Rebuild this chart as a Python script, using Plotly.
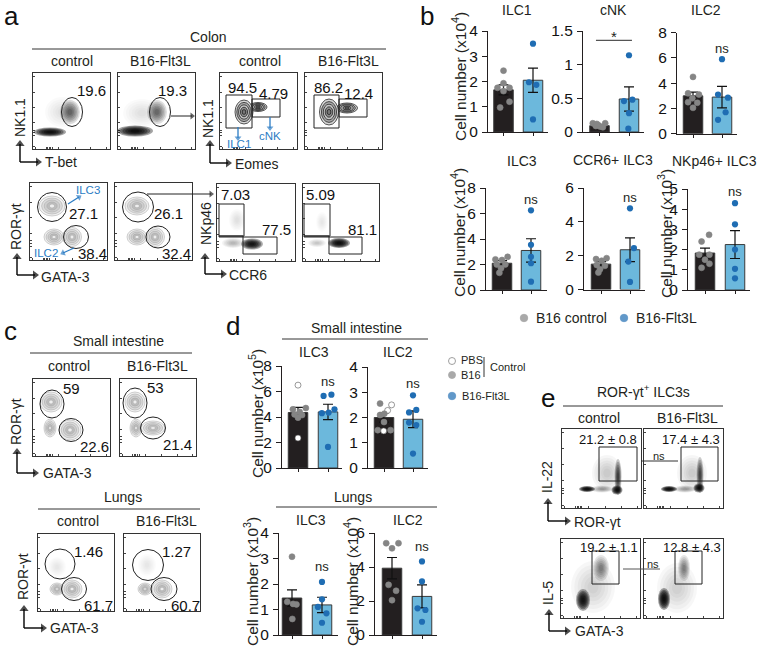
import math
import plotly.graph_objects as go

# ---------- values ----------
ILC1_control = [2.43, 1.93, 1.75, 1.75, 1.62, 1.2, 0.97]
ILC1_flt3l = [3.5, 1.97, 1.87, 0.5]
cNK_control = [0.13, 0.13, 0.1, 0.08, 0.09, 0.07, 0.12]
cNK_flt3l = [1.14, 0.48, 0.46, 0.28, 0.05]
ILC2_control = [4.5, 3.2, 3.1, 2.8, 2.5, 2.45, 2.05]
ILC2_flt3l = [5.9, 3.1, 2.85, 1.7, 1.1]
ILC3_control = [2.6, 2.4, 2.35, 2.0, 2.0, 1.7, 1.35]
ILC3_flt3l = [6.25, 3.55, 2.6, 2.1, 0.65]
CCR6_control = [1.8, 1.85, 1.7, 1.45, 1.4, 1.2, 1.0]
CCR6_flt3l = [4.8, 2.45, 1.65, 0.45]
NKp46_control = [2.73, 2.4, 1.75, 1.75, 1.5, 1.3, 1.1]
NKp46_flt3l = [4.3, 3.25, 2.0, 1.05, 0.58]
SI_ILC3_control = [6.5, 4.6, 4.7, 4.4, 4.15, 4.2, 3.95, 2.35]
SI_ILC3_flt3l = [5.65, 5.75, 4.3, 4.35, 4.6, 1.65]
SI_ILC2_control = [2.55, 2.1, 1.82, 2.5, 2.28, 2.15, 1.47, 1.5, 1.5]
SI_ILC2_flt3l = [2.88, 2.3, 2.2, 1.7, 1.8, 0.57]
LU_ILC3_control = [3.07, 1.3, 1.2, 1.22, 0.63]
LU_ILC3_flt3l = [2.08, 1.4, 1.1, 0.85, 0.48]
LU_ILC2_control = [5.4, 5.4, 5.1, 2.95, 2.6, 2.05]
LU_ILC2_flt3l = [4.33, 3.15, 1.57, 1.47, 0.78]

BAR_MEANS = {"ILC1": [1.67, 2.05], "cNK": [0.094, 0.49], "ILC2": [3.0, 2.9], "ILC3": [2.1, 3.1],
             "CCR6": [1.5, 2.35], "NKp46": [1.83, 2.25], "SI_ILC3": [4.35, 4.4], "SI_ILC2": [2.0, 1.93],
             "LU_ILC3": [1.45, 1.18], "LU_ILC2": [3.93, 2.27]}
BAR_SEM = {"ILC1": [0.2, 0.48], "cNK": [0.012, 0.18], "ILC2": [0.3, 0.85], "ILC3": [0.2, 0.92],
           "CCR6": [0.15, 0.7], "NKp46": [0.24, 0.69], "SI_ILC3": [0.4, 0.6], "SI_ILC2": [0.18, 0.33],
           "LU_ILC3": [0.32, 0.3], "LU_ILC2": [0.63, 0.68]}

# ---------- colours ----------
INK = "#231f20"
BLACK_BAR = "#231f20"
BLUE_BAR = "#6cb8dc"
GREY_DOT = "#858585"
BLUE_DOT = "#1f6db3"
GATE_BLUE = "#2b7cc4"
FONT = "Liberation Sans"

layout = dict(
    template="none",
    width=760, height=646, margin=dict(l=0, r=0, t=0, b=0, pad=0, autoexpand=False),
    paper_bgcolor="white", plot_bgcolor="rgba(0,0,0,0)",
    showlegend=False, font=dict(family=FONT, color=INK),
    xaxis=dict(domain=[0, 1], range=[0, 760], visible=False, fixedrange=True, automargin=False),
    yaxis=dict(domain=[0, 1], range=[646, 0], visible=False, fixedrange=True, automargin=False),
)
shapes, annos, traces = [], [], []
heads = []
axis_counter = [1]


def new_axes(x0, x1, y0, y1):
    axis_counter[0] += 1
    n = axis_counter[0]
    dom_x = [x0 / 760, x1 / 760]
    dom_y = [1 - y1 / 646, 1 - y0 / 646]
    return n, dom_x, dom_y


def text(x, y, s, size=13, color=INK, anchor="center", angle=0):
    annos.append(dict(x=x, y=y, xref="x", yref="y", text=s, showarrow=False, xanchor=anchor, yanchor="middle",
                      font=dict(size=size, color=color, family=FONT), textangle=angle))


def line(x0, y0, x1, y1, color="#333333", width=1):
    shapes.append(dict(type="line", x0=x0, y0=y0, x1=x1, y1=y1, xref="x", yref="y",
                       line=dict(color=color, width=width)))


def arrow(x0, y0, x1, y1, color=INK, width=1.3, size=7):
    line(x0, y0, x1, y1, color, width)
    heads.append((x1, y1, math.degrees(math.atan2(x1 - x0, y0 - y1)), color, size))


def corner(x, ytop, ybot, xright):
    arrow(x, ybot, x, ytop, color="#000000", width=1.4, size=8)
    arrow(x, ybot, xright, ybot, color="#000000", width=1.4, size=8)


# ---------- bar panels ----------
def bar_panel(key, control, flt3l, ctrl_off, flt_off, box, ymax, ticks, ticktext=None, ns=None, ctrl_colors=None):
    x0, x1, y0, y1, c0, c1 = box
    n, dx, dy = new_axes(x0, x1, y0, y1)
    step = c1 - c0
    layout[f"xaxis{n}"] = dict(domain=dx, range=[(x0 - c0) / step, (x1 - c0) / step], anchor=f"y{n}",
                               tickvals=[0, 1], ticks="outside", ticklen=3, tickwidth=1.1, tickcolor=INK,
                               showticklabels=False, showgrid=False, zeroline=False, showline=True,
                               linecolor=INK, linewidth=1.2, fixedrange=True, automargin=False)
    layout[f"yaxis{n}"] = dict(domain=dy, range=[0, ymax], anchor=f"x{n}", tickvals=ticks,
                               ticktext=ticktext or [str(t) for t in ticks], ticks="outside", ticklen=5,
                               tickwidth=1.1, tickcolor=INK, tickfont=dict(size=15.5, color="#111111", family=FONT),
                               showgrid=False, zeroline=False, showline=True, linecolor=INK, linewidth=1.2,
                               fixedrange=True, ticklabelstandoff=1, automargin=False)
    w = 19.5 / step
    traces.append(go.Bar(x=[0, 1], y=BAR_MEANS[key], width=w, xaxis=f"x{n}", yaxis=f"y{n}",
                         marker=dict(color=[BLACK_BAR, BLUE_BAR], line=dict(color="#3a3a3a", width=1)),
                         error_y=dict(type="data", array=BAR_SEM[key], color="#111111", thickness=1.2, width=5)))
    colors = ctrl_colors or [GREY_DOT] * len(control)
    traces.append(go.Scatter(x=[o / 88 for o in ctrl_off], y=control, mode="markers", xaxis=f"x{n}", yaxis=f"y{n}",
                             cliponaxis=False,
                             marker=dict(size=6, color=colors,
                                         line=dict(color=["#555555" if c == "white" else c for c in colors], width=0.6))))
    traces.append(go.Scatter(x=[1 + o / 88 for o in flt_off], y=flt3l, mode="markers", xaxis=f"x{n}", yaxis=f"y{n}",
                             cliponaxis=False, marker=dict(size=6.2, color=BLUE_DOT)))
    if ns is not None:
        annos.append(dict(x=1, y=ns, xref=f"x{n}", yref=f"y{n}", text="ns", showarrow=False, yanchor="middle",
                          font=dict(size=13, color=INK, family=FONT)))
    return n


W = "white"
G = GREY_DOT
bar_panel("ILC1", ILC1_control, ILC1_flt3l, [0, 0, -18, 18, 0, 18, -10], [0, -12, 10, 0],
          (488, 548, 31, 132, 503.5, 533), 4, [0, 1, 2, 3, 4], ns=4.04)
cnk = bar_panel("cNK", cNK_control, cNK_flt3l, [-20, 17, -3, 2, -11, 10, -8], [0, 10, -15, 0, -2],
                (583, 644, 31, 132, 599.5, 629), 1.5, [0, 0.5, 1, 1.5], ["0", "0.5", "1", "1.5"])
bar_panel("ILC2", ILC2_control, ILC2_flt3l, [0, -15, 18, -2, -15, 13, 0], [0, -12, 18, 11, -12],
          (677, 737, 32.7, 133.7, 693, 722), 8, [0, 2, 4, 6, 8], ns=6.75)
bar_panel("ILC3", ILC3_control, ILC3_flt3l, [17, -20, 0, -16, 10, -3, -8], [0, 0, 0, 0, 0],
          (486, 547, 188, 290, 502, 531), 8, [0, 2, 4, 6, 8], ns=7.1)
bar_panel("CCR6", CCR6_control, CCR6_flt3l, [-15, 17, 2, -13, 12, -3, -8], [0, 12, -5, 0],
          (584, 645, 188, 289.5, 601, 630), 6, [0, 2, 4, 6], ns=5.45)
bar_panel("NKp46", NKp46_control, NKp46_flt3l, [12, -10, -17, 13, 0, 13, -10], [0, 0, 0, 0, 0],
          (688, 750, 189, 290, 705, 735), 5, [0, 1, 2, 3, 4, 5], ns=4.9)
bar_panel("SI_ILC3", SI_ILC3_control, SI_ILC3_flt3l, [0, -15, 23, 5, 12, -10, 0, 0], [-13, 10, -18, 2, 19, 0],
          (282, 342, 366, 468, 298, 328), 8, [0, 2, 4, 6, 8], ns=6.8,
          ctrl_colors=[W, G, G, G, G, G, G, W])
bar_panel("SI_ILC2", SI_ILC2_control, SI_ILC2_flt3l, [-12, -12, 0, 23, 11, 1, -1, -19, 20], [0, 10, -12, 10, -12, 0],
          (368, 428, 367, 468, 384, 413), 4, [0, 1, 2, 3, 4], ns=3.35,
          ctrl_colors=[G, G, G, W, W, G, W, G, G])
bar_panel("LU_ILC3", LU_ILC3_control, LU_ILC3_flt3l, [0, -14, 13, 3, 1], [0, 0, -12, 13, 0],
          (279, 338, 533, 635, 292, 322), 4, [0, 1, 2, 3, 4], ns=2.7)
bar_panel("LU_ILC2", LU_ILC2_control, LU_ILC2_flt3l, [-17, 19, 0, -10, 12, 0], [0, 0, -13, 10, 0],
          (375, 437, 533, 635, 392, 422), 6, [0, 2, 4, 6], ns=5.2)

# significance bar on the cNK panel
shapes.append(dict(type="line", x0=-0.12, x1=1.1, y0=1.36, y1=1.36, xref=f"x{cnk}", yref=f"y{cnk}",
                   line=dict(color="#555555", width=1.3)))
annos.append(dict(x=0.5, y=1.42, xref=f"x{cnk}", yref=f"y{cnk}", text="*", showarrow=False, yanchor="middle",
                  font=dict(size=15, color=INK, family=FONT)))

# bar titles
for x, y, s in [(517, 10, "ILC1"), (613, 10, "cNK"), (706, 10, "ILC2"), (522, 161, "ILC3"),
                (613, 160, "CCR6+ ILC3"), (714, 161, "NKp46+ ILC3"), (314, 352, "ILC3"), (398, 352, "ILC2"),
                (311, 520, "ILC3"), (408, 520, "ILC2")]:
    text(x, y, s, size=14)
for x, y, e in [(459, 77, 4), (458, 233, 4), (665, 234, 3), (256, 414, 5), (251, 582, 3), (351, 582, 4)]:
    text(x, y, f"Cell number (x10<sup>{e}</sup>)", size=15.5, angle=-90)

# legends
traces.append(go.Scatter(x=[524, 624, 452, 452, 452], y=[318, 318, 361, 375, 396], mode="markers", xaxis="x", yaxis="y",
                         marker=dict(size=[7.5, 7.5, 7, 7, 7.5], color=[GREY_DOT, BLUE_DOT, "white", GREY_DOT, BLUE_DOT],
                                     line=dict(color=["#888888", BLUE_DOT, "#555555", GREY_DOT, BLUE_DOT], width=0.8))))
text(534, 318, "B16 control", size=14, anchor="left")
text(634, 318, "B16-Flt3L", size=14, anchor="left")
text(459, 360, "PBS", size=11, anchor="left")
text(459, 375, "B16", size=11, anchor="left")
text(488, 367, "Control", size=11, anchor="left")
text(460, 396, "B16-Flt3L", size=11, anchor="left")
line(484, 357, 484, 377, color="#333333", width=1)


# ---------- cytometry panels ----------
def flow_panel(box, clouds=(), rings=(), ring_style="grey", ellipses=(), rects=()):
    x0, x1, y0, y1 = box
    n, dx, dy = new_axes(x0, x1, y0, y1)
    tick_x = [x0 + (x1 - x0) * f for f in (0.03, 0.17, 0.19, 0.21, 0.23, 0.25, 0.33, 0.55, 0.75, 0.95)]
    tick_y = [y0 + (y1 - y0) * f for f in (0.05, 0.25, 0.45, 0.65, 0.75, 0.78, 0.82, 0.97)]
    layout[f"xaxis{n}"] = dict(domain=dx, range=[x0, x1], anchor=f"y{n}", showgrid=False, zeroline=False,
                               showticklabels=False, tickvals=tick_x, ticks="inside", ticklen=2, tickwidth=0.6,
                               tickcolor="#444444", showline=True, mirror=True, linecolor="#333333", linewidth=1,
                               fixedrange=True, automargin=False)
    layout[f"yaxis{n}"] = dict(domain=dy, range=[y1, y0], anchor=f"x{n}", showgrid=False, zeroline=False,
                               showticklabels=False, tickvals=tick_y, ticks="inside", ticklen=2, tickwidth=0.6,
                               tickcolor="#444444", showline=True, mirror=True, linecolor="#333333", linewidth=1,
                               fixedrange=True, automargin=False)
    xr, yr = f"x{n}", f"y{n}"
    for cx, cy, rx, ry, a in clouds:
        for s in (1, 0.85, 0.7, 0.55, 0.4, 0.25):
            shapes.append(dict(type="circle", xref=xr, yref=yr, x0=cx - rx * s, x1=cx + rx * s, y0=cy - ry * s,
                               y1=cy + ry * s, fillcolor="black", opacity=a, line=dict(width=0)))
    for cx, cy, rx, ry in rings:
        if ring_style == "dark":
            fills = ["#d8d8d8", "#a8a8a8", "#c8c8c8", "#8a8a8a", "#777777"]
            stroke = "#111111"
            lw = 0.7
        else:
            fills = ["#efefef", "#dcdcdc", "#cfcfcf", "#bdbdbd", "#eeeeee"]
            stroke = "#a5a5a5"
            lw = 0.5
        for s, f in zip((1, 0.8, 0.6, 0.4, 0.2), fills):
            shapes.append(dict(type="circle", xref=xr, yref=yr, x0=cx - rx * s, x1=cx + rx * s, y0=cy - ry * s,
                               y1=cy + ry * s, fillcolor=f, line=dict(color=stroke, width=lw)))
    for cx, cy, rx, ry in ellipses:
        shapes.append(dict(type="circle", xref=xr, yref=yr, x0=cx - rx, x1=cx + rx, y0=cy - ry, y1=cy + ry,
                           line=dict(color="#222222", width=1)))
    for a, b, c, d in rects:
        shapes.append(dict(type="rect", xref=xr, yref=yr, x0=a, x1=b, y0=c, y1=d, line=dict(color="#222222", width=1)))


# panel a, top row
flow_panel((33, 110, 73, 149), clouds=[(50, 132, 16, 4.5, 0.36), (70, 112, 10, 12, 0.13), (62, 112, 17, 15, 0.018)],
           ellipses=[(72, 112, 10.5, 14.5)])
flow_panel((118, 195, 73, 149), clouds=[(135, 131, 18, 5.5, 0.36), (157, 112, 10, 12, 0.13), (142, 113, 19, 14, 0.02)],
           ellipses=[(160, 112, 10.5, 14.5)])
flow_panel((220, 297, 73, 149), rings=[(258, 107, 9, 4.5), (244, 112, 9, 12)], ring_style="dark",
           rects=[(226, 252, 95, 128), (252, 280, 99, 117)])
flow_panel((305, 382, 73, 149), rings=[(347, 108, 10.5, 5), (329, 112, 9.5, 13)], ring_style="dark",
           rects=[(314, 339, 95, 128), (339, 367, 99, 117)])
# panel a, bottom row
flow_panel((30, 107, 183, 260), rings=[(52, 206, 13, 10), (54, 237, 10, 8), (72, 237, 9.5, 9.5)],
           ellipses=[(52, 207, 14.5, 14.5), (76, 237, 12.5, 11.5)])
flow_panel((115, 192, 183, 260), rings=[(137, 206, 12, 9), (137, 237, 10, 8), (155, 237, 9.5, 9.5)],
           ellipses=[(138, 207, 15.5, 15), (158, 237, 12, 11)])
flow_panel((217, 295, 184, 261), clouds=[(252, 244, 11, 5.5, 0.33), (233, 243, 11, 5, 0.05), (237, 220, 8, 11, 0.018)],
           rects=[(219, 244, 204, 236), (243, 277, 237, 254), (219, 243, 236, 237)])
flow_panel((303, 379, 184, 261), clouds=[(339, 243, 11, 5, 0.36), (317, 243, 9, 4, 0.04), (322, 222, 6, 10, 0.015)],
           rects=[(304, 330, 204, 236), (329, 362, 237, 254), (304, 329, 236, 237)])
# panel c
flow_panel((33, 110, 379, 456), rings=[(51, 402, 11, 10), (50, 428, 6, 9), (70, 430, 11, 10)],
           ellipses=[(52, 404, 12, 14), (71, 430, 12, 11.5)])
flow_panel((120, 196, 379, 456), rings=[(135, 402, 10, 10), (136, 428, 6, 9), (153, 428, 12, 7)],
           ellipses=[(135, 403, 12, 15), (153, 428, 12.5, 11)])
flow_panel((38, 114, 534, 611), clouds=[(57, 567, 9, 10, 0.015)],
           rings=[(57, 589, 7, 6), (72, 589, 10, 9)], ellipses=[(60, 564, 15, 15), (74, 589, 12.5, 11.5)])
flow_panel((124, 200, 534, 611), clouds=[(147, 565, 9, 11, 0.015)],
           rings=[(145, 589, 7, 6), (162, 589, 10, 9)], ellipses=[(148, 565, 15.5, 15.5), (164, 589, 13, 11.5)])
# panel e
flow_panel((562, 641, 429, 508),
           clouds=[(607, 473, 15, 18, 0.035), (602, 489, 11, 3.5, 0.08), (587, 489, 8, 3, 0.38),
                   (618, 477, 3.5, 18, 0.2), (617, 490, 5.5, 4.5, 0.35)],
           rects=[(599, 637, 447, 481)])
flow_panel((644, 723, 429, 508),
           clouds=[(692, 473, 15, 18, 0.035), (685, 489, 11, 3.5, 0.08), (669, 489, 8, 3, 0.38),
                   (700, 475, 3.5, 18, 0.18), (699, 488, 5.5, 4.5, 0.35)],
           rects=[(681, 718, 447, 481)])
flow_panel((561, 640, 539, 618),
           clouds=[(593, 587, 22, 26, 0.03), (601, 568, 8, 13, 0.1), (583, 600, 7, 11, 0.33)],
           rects=[(592, 619, 551, 584)])
flow_panel((644, 723, 539, 618),
           clouds=[(677, 588, 20, 25, 0.03), (684, 568, 6, 13, 0.1), (664, 599, 6, 11, 0.36)],
           rects=[(675, 702, 551, 584)])

# gate percentages
for x, y, s in [(91, 90, "19.6"), (172, 90, "19.3"), (242, 87, "94.5"), (273, 93, "4.79"), (328, 87, "86.2"),
                (358, 93, "12.4"), (83, 213, "27.1"), (92, 253, "38.4"), (168, 213, "26.1"), (176, 253, "32.4"),
                (235, 194, "7.03"), (276, 229, "77.5"), (320, 194, "5.09"), (362, 229, "81.1"),
                (71, 388, "59"), (94, 446, "22.6"), (155, 387, "53"), (177, 444, "21.4"),
                (88, 551, "1.46"), (98, 605, "61.7"), (176, 551, "1.27"), (185, 605, "60.7")]:
    text(x, y, s, size=15, color="#111111")
for x, y, s in [(608, 439, "21.2 ± 0.8"), (691, 439, "17.4 ± 4.3"), (609, 547, "19.2 ± 1.1"), (692, 547, "12.8 ± 4.3")]:
    text(x, y, s, size=13, color="#111111")

# blue gate names and arrows
for x, y, s in [(239, 144, "ILC1"), (270, 136, "cNK"), (88, 190, "ILC3"), (46, 253, "ILC2")]:
    text(x, y, s, size=11.5, color=GATE_BLUE)
arrow(238, 127, 238, 138, GATE_BLUE, 1.3, 6)
arrow(270, 117, 270, 128, GATE_BLUE, 1.3, 6)
arrow(68, 204, 79, 197, GATE_BLUE, 1.3, 6)
arrow(74, 248, 63, 253, GATE_BLUE, 1.3, 6)
arrow(171, 116, 192, 116, "#222222", 1.0, 6)
arrow(147, 194, 211, 194, "#222222", 1.0, 6)

# axis names with corner arrows
for x, y, s in [(20, 118, "NK1.1"), (208, 119, "NK1.1"), (16, 227, "ROR-γt"), (206, 224, "NKp46"),
                (16, 422, "ROR-γt"), (23, 577, "ROR-γt"), (547, 477, "IL-22"), (548, 593, "IL-5")]:
    text(x, y, s, size=14, angle=-90)
for x, y, s in [(43, 162, "T-bet"), (233, 164, "Eomes"), (39, 277, "GATA-3"), (227, 275, "CCR6"),
                (41, 473, "GATA-3"), (48, 628, "GATA-3"), (572, 522, "ROR-γt"), (573, 631, "GATA-3")]:
    text(x, y, s, size=14, anchor="left")
corner(20, 144, 162, 38)
corner(210, 144, 163, 228)
corner(17, 257, 275, 35)
corner(205, 257, 274, 223)
corner(17, 452, 473, 35)
corner(24, 609, 628, 43)
corner(548, 502, 521, 567)
corner(549, 613, 631, 567)

# section headers
for x, y, s in [(208, 37, "Colon"), (118, 341, "Small intestine"), (123, 497, "Lungs"), (356, 328, "Small intestine"),
                (353, 497, "Lungs"), (643, 391, "ROR-γt<sup>+</sup> ILC3s")]:
    text(x, y, s, size=14)
for x, y, s in [(72, 61, "control"), (160, 61, "B16-Flt3L"), (260, 61, "control"), (348, 61, "B16-Flt3L"),
                (69, 366, "control"), (157, 366, "B16-Flt3L"), (78, 521, "control"), (166, 521, "B16-Flt3L"),
                (599, 418, "control"), (687, 418, "B16-Flt3L")]:
    text(x, y, s, size=14)
line(32, 49, 386, 49)
line(30, 353, 192, 353)
line(38, 509, 200, 509)
line(282, 339, 428, 339)
line(276, 507, 437, 507)
line(563, 406, 723, 406)

# ns comparisons in panel e
line(641, 461, 678, 461, "#333333", 1)
text(659, 456, "ns", size=11)
line(623, 569, 660, 569, "#555555", 1)
text(653, 564, "ns", size=11)

# panel letters
for x, y, s in [(11, 16, "a"), (427, 15.5, "b"), (10, 331, "c"), (233, 326, "d"), (548, 398, "e")]:
    text(x, y, s, size=26, color="#111111")

# arrowheads sit on a top overlay with the same pixel scale as the base overlay
top = axis_counter[0] + 1
layout[f"xaxis{top}"] = dict(domain=[0, 1], range=[0, 760], visible=False, fixedrange=True, anchor=f"y{top}", automargin=False)
layout[f"yaxis{top}"] = dict(domain=[0, 1], range=[646, 0], visible=False, fixedrange=True, anchor=f"x{top}", automargin=False)
traces.append(go.Scatter(x=[h[0] for h in heads], y=[h[1] for h in heads], mode="markers", xaxis=f"x{top}", yaxis=f"y{top}",
                         cliponaxis=False,
                         marker=dict(symbol="triangle-up", angle=[h[2] for h in heads], color=[h[3] for h in heads],
                                     size=[h[4] for h in heads], line=dict(width=0))))

layout["shapes"] = shapes
layout["annotations"] = annos
fig = go.Figure(data=traces, layout=layout)
fig.write_html("out.html", config={"displayModeBar": False},
               post_script="document.body.style.margin='0';document.documentElement.style.overflow='hidden';")
